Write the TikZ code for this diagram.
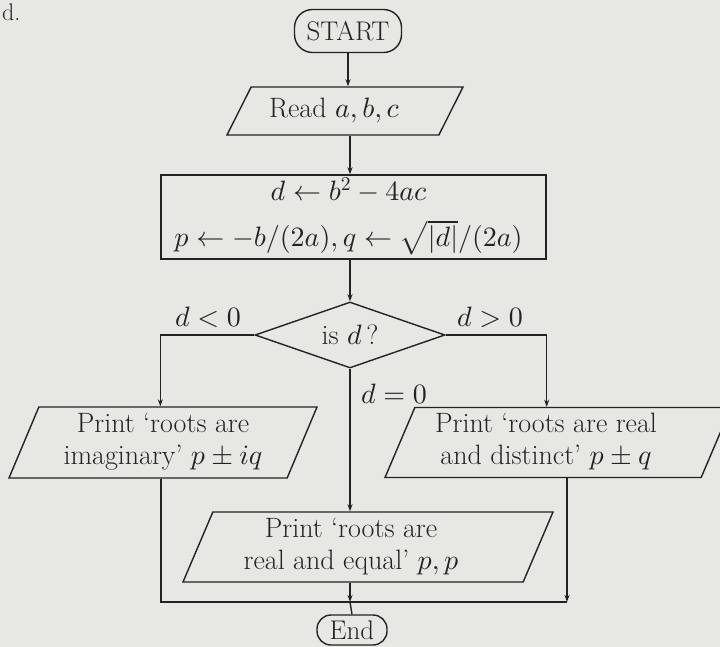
\documentclass[tikz,border=0pt]{standalone}
\usepackage{fontspec}
\DeclareFontShape{OML}{cmm}{m}{it}{<->cmmi10}{}
\DeclareFontShape{OMS}{cmsy}{m}{n}{<->cmsy10}{}
\DeclareFontShape{OMX}{cmex}{m}{n}{<->cmex10}{}
\DeclareFontShape{OT1}{cmr}{m}{n}{<->cmr10}{}
\usetikzlibrary{shapes.geometric,arrows.meta}
\definecolor{paper}{RGB}{231,231,228}
\definecolor{ink}{RGB}{35,35,35}
\newcommand{\tb}[2]{\begin{tabular}{@{}c@{}}#2\end{tabular}\hspace*{#1}}
\tikzset{
  base/.style={draw=ink, line width=1.4pt, text=ink, font=\fontsize{28}{32}\selectfont, inner sep=0pt},
  term/.style={base, rectangle, rounded corners=18pt, font=\fontsize{27}{30}\selectfont},
  ioa/.style={base, trapezium, trapezium stretches body, trapezium left angle=53, trapezium right angle=127},
  iob/.style={base, trapezium, trapezium stretches body, trapezium left angle=65, trapezium right angle=115},
  proc/.style={base, rectangle},
  decision/.style={base, diamond, shape aspect=2.9},
  conn/.style={draw=ink, line width=1.4pt},
  arr/.style={conn, -{Stealth[length=7pt,width=5pt]}},
  lab/.style={text=ink, font=\fontsize{28}{32}\selectfont, inner sep=0pt},
  fraglab/.style={text=ink, font=\fontsize{24}{28}\selectfont, inner sep=0pt},
}
\begin{document}
\begin{tikzpicture}[x=1pt,y=-1pt]
\useasboundingbox (0,0) rectangle (720,647);
\clip (0,0) rectangle (720,647);
\fill[paper] (0,0) rectangle (720,647);

\node[fraglab, anchor=base west] (frag) at (2,21) {d.};

\node[term, minimum width=107pt, minimum height=43pt] (start) at (348,31) {START};
\node[ioa, minimum width=236pt, minimum height=48pt] (read) at (345,111) {\tb{22pt}{Read $a, b, c$}};
\node[proc, minimum width=385pt, minimum height=84pt] (calc) at (353.5,217)
  {\tb{10pt}{$d \leftarrow b^2 - 4ac$\\[10pt] $p \leftarrow -b/(2a), q \leftarrow \sqrt{|d|}/(2a)$}};
\node[decision, minimum width=190pt, minimum height=66pt] (dec) at (350,335) {is $d$\,?};
\node[iob, minimum width=308pt, minimum height=71pt] (imag) at (163,442.5)
  {\tb{0pt}{Print `roots are\\imaginary' $p \pm iq$}};
\node[iob, minimum width=346pt, minimum height=70pt] (dist) at (558,442.5)
  {\tb{24pt}{Print `roots are real\\and distinct' $p \pm q$}};
\node[iob, minimum width=370pt, minimum height=70pt] (equal) at (368,547)
  {\tb{34pt}{Print `roots are\\real and equal' $p, p$}};
\node[term, rounded corners=14pt, minimum width=70pt, minimum height=30pt] (end) at (352,630) {End};

\node[lab] (lneg) at (208,317) {$d < 0$};
\node[lab] (lpos) at (490,317) {$d > 0$};
\node[lab] (lzero) at (394,394) {$d = 0$};

\coordinate (mL) at (161,602);
\coordinate (mR) at (567,602);
\coordinate (mC) at (350,602);

\draw[arr] (start.south) -- (start.south |- read.north);
\draw[arr] (dec.north |- read.south) -- (dec.north |- calc.north);
\draw[arr] (dec.north |- calc.south) -- (dec.north);
\draw[arr] (dec.west) -| (calc.west |- imag.north);
\draw[arr] (dec.east) -| (calc.east |- dist.north);
\draw[arr] (dec.south) -- (dec.south |- equal.north);
\draw[conn] (mL |- imag.south) -- (mL) -- (mR);
\draw[arr] (mR |- dist.south) -- (mR);
\draw[arr] (mC |- equal.south) -- (mC);
\draw[conn] (mC) -- (end.north);
\end{tikzpicture}
\end{document}
